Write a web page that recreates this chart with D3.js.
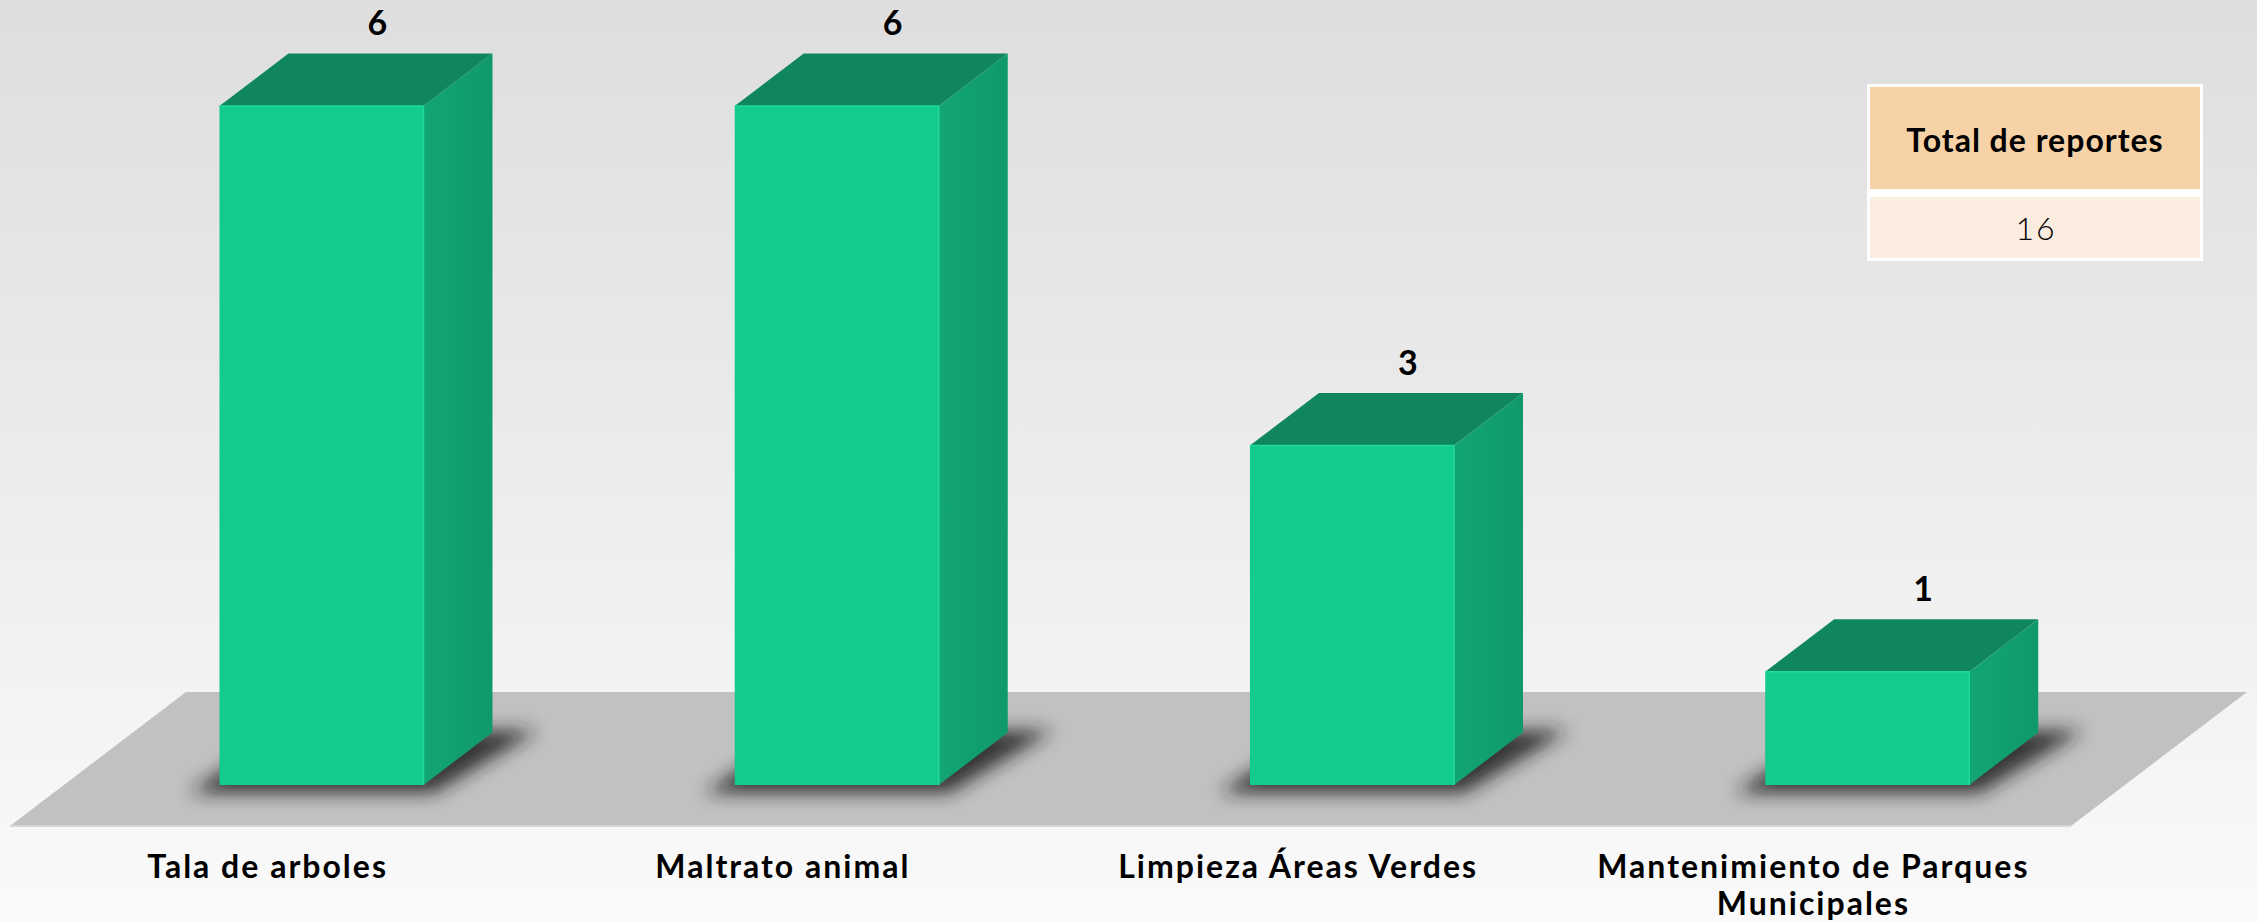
<!DOCTYPE html>
<html lang="es">
<head>
<meta charset="utf-8">
<script src="https://cdn.jsdelivr.net/npm/d3@7"></script>
<style>
body { margin: 0; overflow: hidden; background: #eeeeee; }
text { font-family: Lato, "Open Sans", sans-serif; fill: #000; }
</style>
</head>
<body>
<script>
"use strict"

// data
const categories = ['Tala de arboles', 'Maltrato animal', 'Limpieza Áreas Verdes', 'Mantenimiento de Parques Municipales'];
const values = [6, 6, 3, 1];
const tableTitle = 'Total de reportes';
const tableTotal = 16;

const w = 2257;
const h = 922;

// floor / oblique projection
const floorLeft = 10;
const floorRight = 2071;
const floorFront = 826;
const depthX = 176;
const depthY = 134;
const barZ0 = 0.306;
const barZ1 = 0.698;
const plotHeight = 679;

const colFront = '#14cb8e';
const colTop = '#0f865d';

const svg = d3.select('body')
	.append('svg')
	.attr('width', w)
	.attr('height', h);

const defs = svg.append('defs');

const bgGrad = defs.append('linearGradient')
	.attr('id', 'bg')
	.attr('x1', 0).attr('y1', 0)
	.attr('x2', 0).attr('y2', 1);
bgGrad.append('stop').attr('offset', '0%').attr('stop-color', '#dedede');
bgGrad.append('stop').attr('offset', '100%').attr('stop-color', '#fafafa');

const sideGrad = defs.append('linearGradient')
	.attr('id', 'side')
	.attr('x1', 0).attr('y1', 0)
	.attr('x2', 1).attr('y2', 0);
sideGrad.append('stop').attr('offset', '0%').attr('stop-color', '#12a575');
sideGrad.append('stop').attr('offset', '100%').attr('stop-color', '#10996b');

defs.append('filter')
	.attr('id', 'blur')
	.attr('x', '-50%').attr('y', '-50%')
	.attr('width', '200%').attr('height', '200%')
	.append('feGaussianBlur')
	.attr('stdDeviation', 9);

svg.append('rect')
	.attr('width', w)
	.attr('height', h)
	.attr('fill', 'url(#bg)');

const xScale = d3.scaleBand()
	.domain(categories)
	.range([floorLeft, floorRight])
	.paddingInner(0.604)
	.paddingOuter(0.302);

const yScale = d3.scaleLinear()
	.domain([0, d3.max(values)])
	.range([0, plotHeight]);

function proj(x, y, z) {
	return [x + z * depthX, floorFront - y - z * depthY];
}

const line = d3.line();

// floor
svg.append('path')
	.attr('d', line([proj(floorLeft, 0, 0), proj(floorRight, 0, 0), proj(floorRight, 0, 1), proj(floorLeft, 0, 1)]) + 'Z')
	.attr('fill', '#c1c1c1');

svg.append('path')
	.attr('d', line([proj(floorLeft, 0, 0), proj(floorRight, 0, 0)]))
	.attr('stroke', '#d6d6d6')
	.attr('stroke-width', 2);

const dataset = categories.map((c, i) => ({ cat: c, value: values[i] }));
const bw = xScale.bandwidth();

// shadows
svg.append('g')
	.selectAll('path')
	.data(dataset)
	.enter()
	.append('path')
	.attr('filter', 'url(#blur)')
	.attr('fill', '#1e1e1e')
	.attr('opacity', 0.85)
	.attr('d', d => {
		const x0 = xScale(d.cat);
		const x1 = x0 + bw;
		const a = proj(x0, 0, barZ0), b = proj(x1, 0, barZ0);
		const c = proj(x1, 0, barZ1), e = proj(x0, 0, barZ1);
		return line([[a[0] - 30, a[1] + 8], [b[0] + 10, b[1] + 8], [c[0] + 45, c[1] - 2], [e[0] - 5, e[1] - 2]]) + 'Z';
	});

const bars = svg.append('g')
	.selectAll('g')
	.data(dataset)
	.enter()
	.append('g')
	.attr('class', 'bar');

bars.append('path')
	.attr('fill', 'url(#side)')
	.attr('d', d => {
		const x1 = xScale(d.cat) + bw, y = yScale(d.value);
		return line([proj(x1, 0, barZ0), proj(x1, 0, barZ1), proj(x1, y, barZ1), proj(x1, y, barZ0)]) + 'Z';
	});

bars.append('path')
	.attr('fill', colTop)
	.attr('d', d => {
		const x0 = xScale(d.cat), x1 = x0 + bw, y = yScale(d.value);
		return line([proj(x0, y, barZ0), proj(x1, y, barZ0), proj(x1, y, barZ1), proj(x0, y, barZ1)]) + 'Z';
	});

bars.append('path')
	.attr('fill', colFront)
	.attr('d', d => {
		const x0 = xScale(d.cat), x1 = x0 + bw, y = yScale(d.value);
		return line([proj(x0, 0, barZ0), proj(x1, 0, barZ0), proj(x1, y, barZ0), proj(x0, y, barZ0)]) + 'Z';
	});

// light edge where front meets top and side
bars.append('path')
	.attr('fill', 'none')
	.attr('stroke', '#1fd99b')
	.attr('stroke-width', 1.5)
	.attr('d', d => {
		const x0 = xScale(d.cat), x1 = x0 + bw, y = yScale(d.value);
		return line([proj(x0, y, barZ0), proj(x1, y, barZ0), proj(x1, 0, barZ0)]);
	});

// value labels
bars.append('text')
	.attr('x', d => proj(xScale(d.cat) + bw / 2, 0, barZ0)[0] + 56)
	.attr('y', d => proj(0, yScale(d.value), barZ1)[1] - 18)
	.attr('text-anchor', 'middle')
	.style('font-size', '34px')
	.style('font-weight', 700)
	.text(d => d.value);

// category labels (wrapped to the slot width)
const catLabels = svg.append('g')
	.selectAll('text')
	.data(categories)
	.enter()
	.append('text')
	.attr('x', d => xScale(d) + bw / 2)
	.attr('y', 878)
	.attr('text-anchor', 'middle')
	.style('font-size', '32px')
	.style('font-weight', 700)
	.style('letter-spacing', '2px')
	.text(d => d);

catLabels.each(function (d) {
	const el = d3.select(this);
	const maxW = xScale.step() * 0.9;
	const words = d.split(' ');
	const lines = [];
	let cur = [];
	el.text(null);
	const probe = el.append('tspan');
	words.forEach(wd => {
		cur.push(wd);
		probe.text(cur.join(' '));
		if (probe.node().getComputedTextLength() > maxW && cur.length > 1) {
			cur.pop();
			lines.push(cur.join(' '));
			cur = [wd];
		}
	});
	lines.push(cur.join(' '));
	probe.remove();
	const x = el.attr('x');
	lines.forEach((l, i) => {
		el.append('tspan')
			.attr('x', x)
			.attr('dy', i === 0 ? 0 : 37)
			.text(l);
	});
});

// summary table
const table = svg.append('g').attr('id', 'table');
table.append('rect')
	.attr('x', 1867).attr('y', 84)
	.attr('width', 336).attr('height', 177)
	.attr('fill', '#ffffff');
table.append('rect')
	.attr('x', 1870).attr('y', 87)
	.attr('width', 330).attr('height', 102)
	.attr('fill', '#f7d2a6');
table.append('rect')
	.attr('x', 1870).attr('y', 197)
	.attr('width', 330).attr('height', 61)
	.attr('fill', '#fbece0');
table.append('text')
	.attr('x', 2035).attr('y', 152)
	.attr('text-anchor', 'middle')
	.style('font-size', '32px')
	.style('font-weight', 700)
	.style('letter-spacing', '1px')
	.text(tableTitle);
table.append('text')
	.attr('x', 2036).attr('y', 240)
	.attr('text-anchor', 'middle')
	.style('font-size', '32px')
	.style('font-weight', 300)
	.style('letter-spacing', '2px')
	.text(tableTotal);
</script>
</body>
</html>
